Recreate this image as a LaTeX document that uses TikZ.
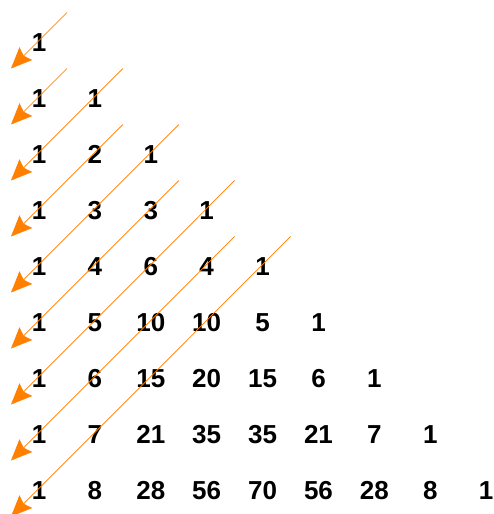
\documentclass[tikz,border=0pt]{standalone}
\usepackage{fontspec}
\setmainfont{Liberation Sans}
\usetikzlibrary{arrows.meta}
\definecolor{arroworange}{RGB}{255,128,0}
\begin{document}
\begin{tikzpicture}[x=1pt,y=-1pt,
  num/.style={inner sep=0pt,font=\fontsize{26}{26}\selectfont\bfseries},
  diagarrow/.style={draw=arroworange,fill=arroworange,line width=0.7pt,
    -{Stealth[length=21pt,width=18pt,inset=3pt]}}]
\useasboundingbox (0,0) rectangle (494,514);
\foreach \row [count=\r from 0] in {{1},{1,1},{1,2,1},{1,3,3,1},{1,4,6,4,1},{1,5,10,10,5,1},{1,6,15,20,15,6,1},{1,7,21,35,35,21,7,1},{1,8,28,56,70,56,28,8,1}}{
  \foreach \v [count=\c from 0] in \row {
    \node[num] (n-\r-\c) at (39+55.9*\c, 42.5+56*\r) {\v};
  }
}
\foreach \s in {0,...,8}{
  \pgfmathtruncatemacro\rt{ceil(\s/2)}
  \pgfmathtruncatemacro\ct{\s-\rt}
  \coordinate (s\s) at ([shift={(28,-30)}]n-\rt-\ct.center);
  \coordinate (e\s) at ([shift={(-28,26)}]n-\s-0.center);
  \draw[diagarrow] (s\s) -- (e\s);
}
\end{tikzpicture}
\end{document}
